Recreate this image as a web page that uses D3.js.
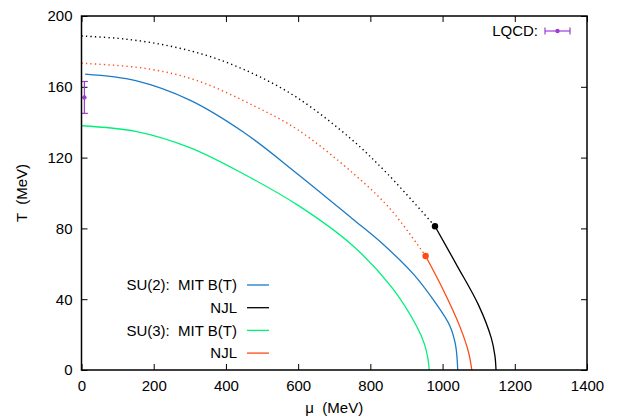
<!DOCTYPE html>
<html>
<head>
<meta charset="utf-8">
<script src="https://cdn.jsdelivr.net/npm/d3@7"></script>
<style>
  body { margin: 0; background: #fff; }
  svg { font-family: "Liberation Sans", Arial, sans-serif; }
  .tick text { font-size: 15px; fill: #000; }
  text { white-space: pre; }
</style>
</head>
<body>
<svg id="chart" width="620" height="418"></svg>
<script>
// ---- data (mu in MeV, T in MeV) ----
const su2MitMu = [10, 150, 300, 450, 600, 750, 830, 920, 980, 1020, 1036, 1042];
const su2MitT  = [167.2, 163.5, 152.5, 134.2, 110.5, 85.5, 72, 54, 38, 25, 14, 0];

const su2NjlDotMu = [0, 120, 245, 365, 485, 600, 744, 849, 979];
const su2NjlDotT  = [188.7, 187, 183, 176.5, 166.5, 153.5, 131, 110.5, 81.2];
const su2NjlMu = [979, 1040, 1100, 1135, 1145, 1148];
const su2NjlT  = [81.2, 59, 36.5, 18, 8, 0];

const su3MitMu = [0, 150, 300, 450, 600, 750, 860, 930, 950, 959, 963];
const su3MitT  = [138, 134.8, 125.6, 110.6, 93, 70.5, 46.5, 24, 14.5, 7, 0];

const su3NjlDotMu = [0, 180, 320, 480, 600, 753, 855, 953];
const su3NjlDotT  = [173.3, 170.3, 163.5, 149, 135.6, 111, 91, 64.4];
const su3NjlMu = [953, 1002, 1048, 1072, 1081];
const su3NjlT  = [64.4, 45.2, 24.5, 10, 0];

const critMu = [979, 953];
const critT  = [81.2, 64.4];

const lqcdMu = [8];
const lqcdT = [154];
const lqcdErr = [9];

const xTicks = [0, 200, 400, 600, 800, 1000, 1200, 1400];
const yTicks = [0, 40, 80, 120, 160, 200];

const legendLabels = ['SU(2):  MIT B(T)', 'NJL', 'SU(3):  MIT B(T)', 'NJL'];

// ---- colours ----
const cBlue = '#1b7bc6';
const cBlack = '#000000';
const cGreen = '#00f07a';
const cOrange = '#ff4a12';
const cPurple = '#9b3fd0';

const svg = d3.select('#chart');
const margin = { left: 81.5, right: 33, top: 16, bottom: 48 };
const W = 620, H = 418;

const x = d3.scaleLinear().domain([0, 1400]).range([margin.left, W - margin.right]);
const y = d3.scaleLinear().domain([0, 200]).range([H - margin.bottom, margin.top]);

const zip = (a, b) => a.map((v, i) => [v, b[i]]);
const line = d3.line()
    .x(d => x(d[0]))
    .y(d => y(d[1]))
    .curve(d3.curveCatmullRom.alpha(0.5));

// Axes (ticks inward, mirrored)
const tickLen = 6;
svg.append('g')
    .attr('transform', `translate(0,${y(0)})`)
    .call(d3.axisBottom(x).tickValues(xTicks).tickSize(-tickLen).tickPadding(10).tickFormat(d3.format('d')))
    .call(g => g.select('.domain').remove());
svg.append('g')
    .attr('transform', `translate(0,${y(200)})`)
    .call(d3.axisTop(x).tickValues(xTicks).tickSize(-tickLen).tickFormat(''))
    .call(g => g.select('.domain').remove());
svg.append('g')
    .attr('transform', `translate(${x(0)},0)`)
    .call(d3.axisLeft(y).tickValues(yTicks).tickSize(-tickLen).tickPadding(9))
    .call(g => g.select('.domain').remove());
svg.append('g')
    .attr('transform', `translate(${x(1400)},0)`)
    .call(d3.axisRight(y).tickValues(yTicks).tickSize(-tickLen).tickFormat(''))
    .call(g => g.select('.domain').remove());
svg.selectAll('.tick line').attr('stroke', '#000').attr('stroke-width', 1);

// Curves
const curves = [
    { pts: zip(su2MitMu, su2MitT), color: cBlue, dash: null },
    { pts: zip(su3MitMu, su3MitT), color: cGreen, dash: null },
    { pts: zip(su3NjlDotMu, su3NjlDotT), color: cOrange, dash: '1.3,3.2' },
    { pts: zip(su3NjlMu, su3NjlT), color: cOrange, dash: null },
    { pts: zip(su2NjlDotMu, su2NjlDotT), color: cBlack, dash: '1.3,3.2' },
    { pts: zip(su2NjlMu, su2NjlT), color: cBlack, dash: null }
];
svg.append('g').selectAll('path')
    .data(curves)
    .join('path')
    .attr('d', d => line(d.pts))
    .attr('fill', 'none')
    .attr('stroke', d => d.color)
    .attr('stroke-width', d => d.dash ? 1.4 : 1.3)
    .attr('stroke-dasharray', d => d.dash);

// Critical points
svg.append('g').selectAll('circle')
    .data(zip(critMu, critT))
    .join('circle')
    .attr('cx', d => x(d[0]))
    .attr('cy', d => y(d[1]))
    .attr('r', 3.2)
    .attr('fill', (d, i) => i === 0 ? cBlack : cOrange);

// LQCD point with error bar
const lq = svg.append('g').attr('stroke', cPurple).attr('stroke-width', 1.2);
lqcdMu.forEach((m, i) => {
    const px = x(m);
    lq.append('line').attr('x1', px).attr('x2', px)
        .attr('y1', y(lqcdT[i] - lqcdErr[i])).attr('y2', y(lqcdT[i] + lqcdErr[i]));
    [lqcdT[i] - lqcdErr[i], lqcdT[i] + lqcdErr[i]].forEach(t => {
        lq.append('line').attr('x1', px - 3.5).attr('x2', px + 3.5)
            .attr('y1', y(t)).attr('y2', y(t));
    });
    lq.append('circle').attr('cx', px).attr('cy', y(lqcdT[i])).attr('r', 2.2)
        .attr('fill', cPurple).attr('stroke', 'none');
});

// Frame
svg.append('rect')
    .attr('x', x(0)).attr('y', y(200))
    .attr('width', x(1400) - x(0)).attr('height', y(0) - y(200))
    .attr('fill', 'none').attr('stroke', '#000').attr('stroke-width', 1.5);

// Axis titles
svg.append('text')
    .attr('x', (x(0) + x(1400)) / 2).attr('y', 413)
    .attr('text-anchor', 'middle').attr('font-size', 15)
    .text('\u03bc  (MeV)');
svg.append('text')
    .attr('transform', `translate(27,${(y(0) + y(200)) / 2}) rotate(-90)`)
    .attr('text-anchor', 'middle').attr('font-size', 15)
    .text('T  (MeV)');

// Legend bottom-left
const legendColors = [cBlue, cBlack, cGreen, cOrange];
const lg = svg.append('g');
legendLabels.forEach((lab, i) => {
    const ly = 285 + i * 22.7;
    lg.append('text').attr('x', 237).attr('y', ly).attr('dy', '0.35em')
        .attr('text-anchor', 'end').attr('font-size', 15).text(lab);
    lg.append('line').attr('x1', 247).attr('x2', 269).attr('y1', ly).attr('y2', ly)
        .attr('stroke', legendColors[i]).attr('stroke-width', 1.3);
});

// Legend LQCD
const ll = svg.append('g');
ll.append('text').attr('x', 538).attr('y', 31).attr('dy', '0.35em')
    .attr('text-anchor', 'end').attr('font-size', 15).text('LQCD:');
const lgl = ll.append('g').attr('stroke', cPurple).attr('stroke-width', 1.2);
lgl.append('line').attr('x1', 545).attr('x2', 570).attr('y1', 31).attr('y2', 31);
lgl.append('line').attr('x1', 545).attr('x2', 545).attr('y1', 27.5).attr('y2', 34.5);
lgl.append('line').attr('x1', 570).attr('x2', 570).attr('y1', 27.5).attr('y2', 34.5);
ll.append('circle').attr('cx', 557.5).attr('cy', 31).attr('r', 2.2).attr('fill', cPurple);
</script>
</body>
</html>
